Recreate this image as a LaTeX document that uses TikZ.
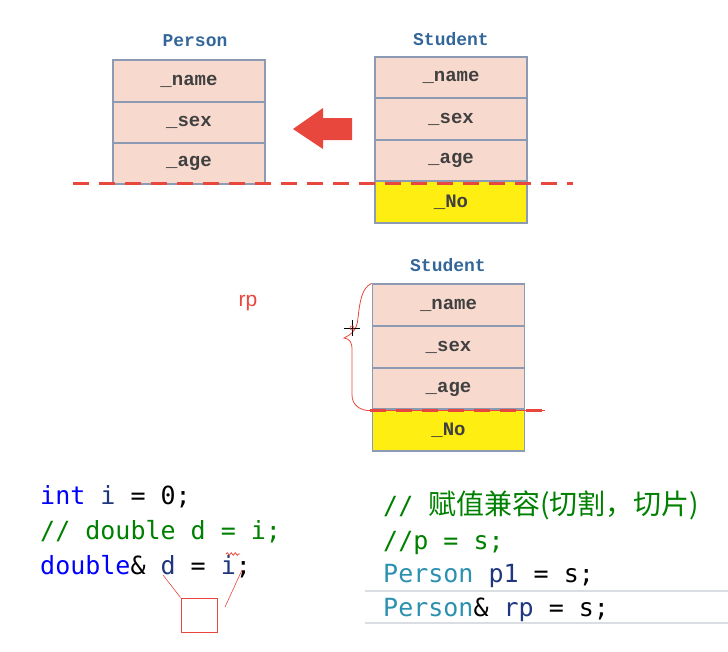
\documentclass[tikz,border=0pt]{standalone}
\usepackage{fontspec}
\usetikzlibrary{positioning,decorations.pathmorphing}
\usepackage{color}
\newfontfamily\codefont{DejaVu Sans Mono}
\newfontfamily\boxfont{Liberation Mono}
\newfontfamily\labelfont{Liberation Sans}
\newfontfamily\cjk{Noto Sans CJK SC}
\definecolor{fieldpink}{HTML}{F7D9CD}
\definecolor{fieldline}{HTML}{8C9AB3}
\definecolor{noyellow}{HTML}{FFEE11}
\definecolor{titleblue}{HTML}{336699}
\definecolor{cutred}{HTML}{E8473D}
\definecolor{kwblue}{HTML}{0000FF}
\definecolor{varnavy}{HTML}{1F377F}
\definecolor{cmtgreen}{HTML}{008000}
\definecolor{typeteal}{HTML}{2B91AF}
\definecolor{sepgray}{HTML}{DADDE2}

\tikzset{
  field/.style = {rectangle, draw = fieldline, line width = 1.8pt, fill = fieldpink,
    minimum width = 152pt, minimum height = 41.5pt, inner sep = 0pt,
    font = \boxfont\bfseries\fontsize{19}{19}\selectfont, text = black!75},
  nofield/.style = {field, fill = noyellow},
  title/.style = {font = \boxfont\bfseries\fontsize{18}{18}\selectfont, text = titleblue},
  code/.style = {anchor = base west, inner sep = 0pt, font = \codefont\fontsize{25}{25}\selectfont},
  cutline/.style = {draw = cutred, line width = 3pt, dash pattern = on 16pt off 10pt},
}

\begin{document}
\begin{tikzpicture}[x = 1pt, y = -1pt]
  \useasboundingbox (0,0) rectangle (728,651);
  % Person
  \node (ptitle) at (195,41) [title] {Person};
  \node (pname)  at (189,81)    [field] {\_name};
  \node (psex)   at (189,122.5) [field] {\_sex};
  \node (page)   at (189,163.5) [field] {\_age};
  % Student, top
  \node (stitle) at (451,39) [title] {Student};
  \node (sname)  at (451,77.5) [field] {\_name};
  \node (ssex)   at (451,119)  [field] {\_sex};
  \node (sage)   at (451,160.5) [field] {\_age};
  \node (sno)    at (451,202)  [nofield] {\_No};
  \draw [cutline] (73,183) -- (573,183);
  \fill [cutred] (293,129) -- (323,108) -- (323,118) -- (352,118)
    -- (352,140) -- (323,140) -- (323,149) -- cycle;
  % Student, bottom
  \node (ttitle) at (448,265) [title] {Student};
  \node (tname)  at (448.5,305) [field] {\_name};
  \node (tsex)   at (448.5,347) [field] {\_sex};
  \node (tage)   at (448.5,389) [field] {\_age};
  \node (tno)    at (448.5,430) [nofield] {\_No};
  \draw [cutred, line width = 1pt] (370,410) -- (545,410);
  \draw [cutline] (370,410) -- (545,410);
  \node (rp) at (248,303) [text = cutred, font = \labelfont\fontsize{21}{21}\selectfont] {rp};
  \draw [cutred, line width = 0.8pt] (tname.north west) .. controls (362,288) and (360,300) .. (358,318)
    .. controls (357,330) and (352,334) .. (344,338) .. controls (350,339) and (352,342) .. (352,350)
    -- (352,395) .. controls (352,405) and (360,411) .. (tage.south west);
  \coordinate (cursor) at (352,328);
  \draw [line width = 0.6pt] ([xshift = -8pt] cursor) -- ([xshift = 8pt] cursor);
  \draw [line width = 0.6pt] ([yshift = -8pt] cursor) -- ([yshift = 8pt] cursor);
  \draw [cutred, line width = 0.6pt] (cursor) circle (2pt);
  % code, left
  \node (intline) at (40,504) [code] {\color{kwblue}int \color{varnavy}i \color{black}= 0;};
  \node (dblcmt)  at (40,539) [code, text = cmtgreen] {// double d = i;};
  \node (dblref)  at (40,574) [code] {\color{kwblue}double\color{black}\& \color{varnavy}d \color{black}= \color{varnavy}i\color{black};};
  \draw [cutred, line width = 0.8pt, decorate, decoration = {snake, amplitude = 1.2pt, segment length = 4pt}] (226,554) -- (240,554);
  \node (hintbox) at (199,615) [draw = cutred, line width = 0.8pt, minimum width = 36pt, minimum height = 34pt] {};
  \coordinate (hintl) at (163,575);
  \coordinate (hintr) at (242,570);
  \coordinate (hintre) at (225,607);
  \draw [cutred, line width = 0.6pt] (hintl) -- (hintbox.north west);
  \draw [cutred, line width = 0.6pt] (hintr) -- (hintre);
  % code, right
  \coordinate (sepa) at (365,591);
  \coordinate (sepb) at (728,591);
  \coordinate (sepc) at (365,623);
  \coordinate (sepd) at (728,623);
  \draw [sepgray, line width = 2pt] (sepa) -- (sepb);
  \draw [sepgray, line width = 2pt] (sepc) -- (sepd);
  \node (cutcmt) at (383,514) [code, text = cmtgreen] {// {\cjk\fontsize{28}{28}\selectfont 赋值兼容(切割，切片)}};
  \node (pcmt)   at (383,549) [code, text = cmtgreen] {//p = s;};
  \node (pcopy)  at (383,582) [code] {\color{typeteal}Person \color{varnavy}p1 \color{black}= s;};
  \node (pref)   at (383,616) [code] {\color{typeteal}Person\color{black}\& \color{varnavy}rp \color{black}= s;};
\end{tikzpicture}
\end{document}
